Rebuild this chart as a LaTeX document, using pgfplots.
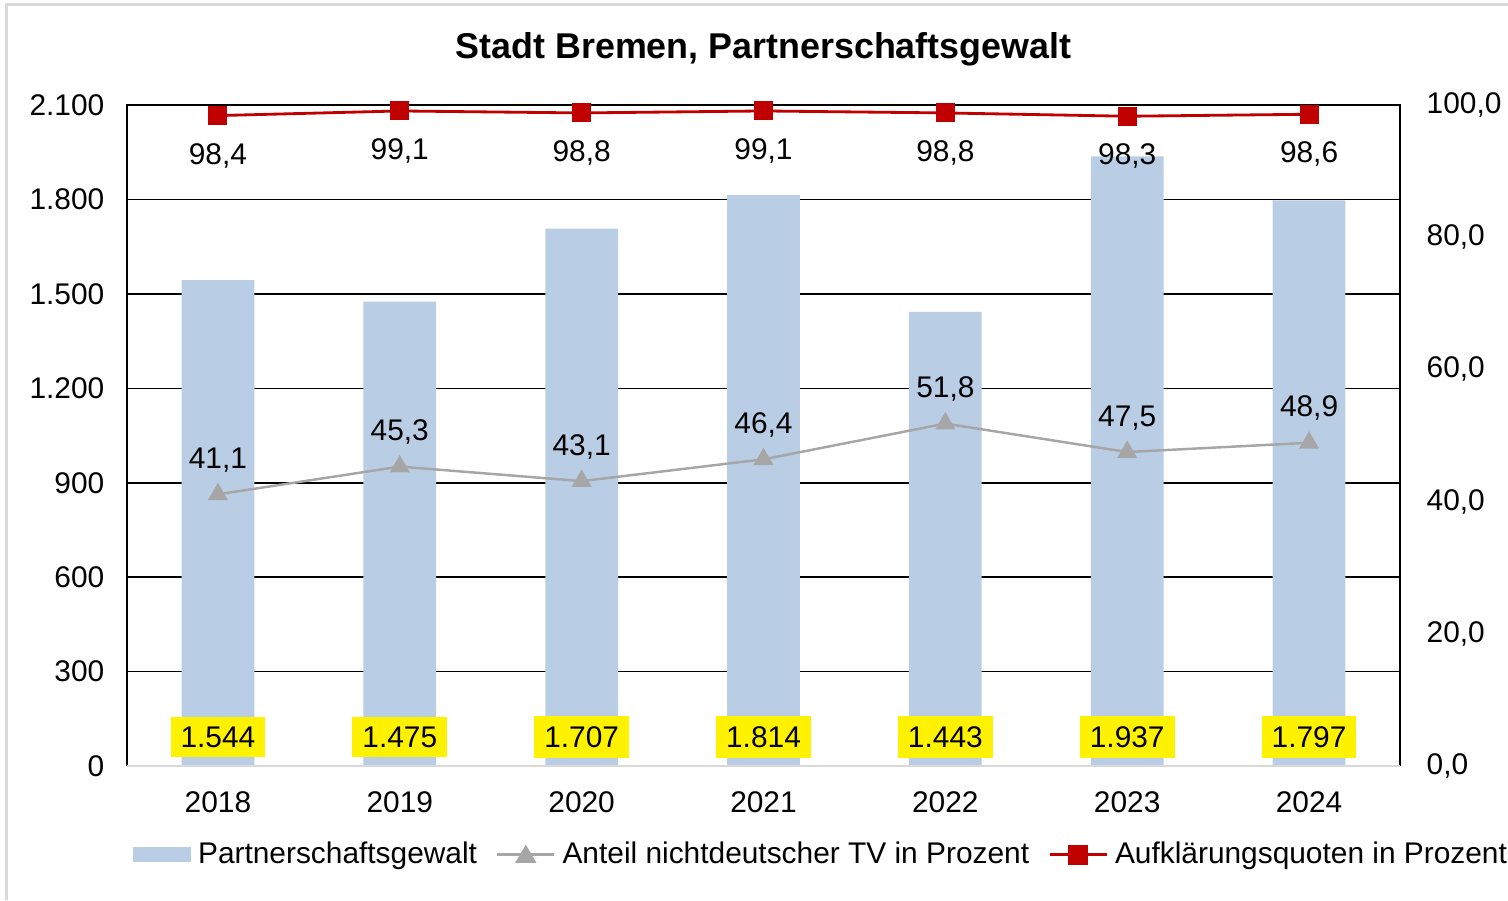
\documentclass[border=0pt]{standalone}
\usepackage{fontspec}
\setmainfont{Liberation Sans}
\usepackage{pgfplots}
\usepackage{pgfplotstable}
\pgfplotsset{compat=1.18}
\definecolor{barblue}{HTML}{B9CDE5}
\definecolor{redq}{HTML}{C00000}
\definecolor{grayl}{HTML}{A6A6A6}
\definecolor{frame}{HTML}{D9D9D9}

\pgfplotstableread{
x y
0 1544
1 1475
2 1707
3 1814
4 1443
5 1937
6 1797
}\bars
\pgfplotstableread{
x y
0 41.1
1 45.3
2 43.1
3 46.4
4 51.8
5 47.5
6 48.9
}\anteil
\pgfplotstableread{
x y
0 98.4
1 99.1
2 98.8
3 99.1
4 98.8
5 98.3
6 98.6
}\quote

\begin{document}
\fontsize{8.5}{10}\selectfont
\begin{tikzpicture}[x=1cm,y=1cm]
\path[use as bounding box] (-1.27,-1.34) rectangle (13.81,7.66);
\draw[frame, line width=0.03cm] (-1.20,-1.34) -- (-1.20,7.61) -- (13.81,7.61);
\begin{axis}[
  at={(0,0)}, anchor=south west,
  scale only axis, width=12.73cm, height=6.61cm,
  xmin=-0.5, xmax=6.5, ymin=0, ymax=2100,
  xtick={0,...,6}, xticklabels={2018,2019,2020,2021,2022,2023,2024},
  ytick={0,300,...,2100},
  yticklabel style={/pgf/number format/1000 sep={.}},
  /pgf/number format/assume math mode=true,
  major tick length=0pt,
  ymajorgrids, grid style={black, line width=0.45pt},
  axis line style={draw=none},
  xticklabel style={yshift=-0.15cm},
  yticklabel style={xshift=-0.12cm},
  ticklabel style={font=\fontsize{8.5}{10}\selectfont},
  clip=false,
]
\addplot[ybar, bar width=0.4, fill=barblue, draw=none, bar shift=0pt] table[x=x,y=y] {\bars};
\addplot[draw=none, mark=none, nodes near coords={\pgfmathprintnumber[1000 sep={.},assume math mode=true]{\pgfplotspointmeta}},
  point meta=explicit,
  every node near coord/.style={anchor=center, fill=yellow, inner xsep=0.1cm, inner ysep=0.1cm, yshift=0.29cm, font=\fontsize{8.5}{10}\selectfont, text=black}]
  table[x=x, y expr=0, meta=y] {\bars};
\draw[black, line width=0.45pt] (rel axis cs:0,0) -- (rel axis cs:0,1) -- (rel axis cs:1,1) -- (rel axis cs:1,0);
\draw[frame, line width=0.6pt] (rel axis cs:0,0) -- (rel axis cs:1,0);
\node[font=\bfseries\fontsize{10.2}{12}\selectfont] at ([yshift=0.56cm]rel axis cs:0.5,1) {Stadt Bremen, Partnerschaftsgewalt};
\end{axis}
\begin{axis}[
  at={(0,0)}, anchor=south west,
  scale only axis, width=12.73cm, height=6.61cm,
  xmin=-0.5, xmax=6.5, ymin=0, ymax=100,
  axis y line*=right, axis x line=none,
  axis line style={draw=none},
  ytick={0,20,...,100},
  yticklabel style={xshift=0.16cm, /pgf/number format/.cd, fixed, fixed zerofill, precision=1, use comma, assume math mode=true},
  ticklabel style={font=\fontsize{8.5}{10}\selectfont},
  major tick length=0pt,
  clip=false,
  legend style={draw=none, fill=none, at={(0.547,-0.134)}, anchor=center, legend columns=3,
    font=\fontsize{8.5}{10}\selectfont, /tikz/every even column/.append style={column sep=0.12cm}},
  legend cell align=left,
]
\addlegendimage{legend image code/.code={\fill[barblue] (0cm,-0.07cm) rectangle (0.57cm,0.07cm);}}
\addlegendentry{Partnerschaftsgewalt}
\addplot[grayl, line width=0.7pt, mark=triangle*, mark size=2.6pt, mark options={fill=grayl, draw=grayl},
  nodes near coords={\pgfmathprintnumber[fixed,fixed zerofill,precision=1,use comma,assume math mode=true]{\pgfplotspointmeta}},
  every node near coord/.style={anchor=south, yshift=0.11cm, font=\fontsize{8.5}{10}\selectfont, text=black},
  legend image code/.code={\draw[grayl, line width=0.7pt] (0cm,0cm) -- (0.57cm,0cm); \fill[grayl] (0.285cm,0.075cm) -- (0.2cm,-0.07cm) -- (0.37cm,-0.07cm) -- cycle;}]
  table[x=x,y=y] {\anteil};
\addlegendentry{Anteil nichtdeutscher TV in Prozent}
\addplot[redq, line width=0.8pt, mark=square*, mark size=2.3pt, mark options={fill=redq, draw=redq},
  nodes near coords={\pgfmathprintnumber[fixed,fixed zerofill,precision=1,use comma,assume math mode=true]{\pgfplotspointmeta}},
  every node near coord/.style={anchor=center, yshift=-0.40cm, font=\fontsize{8.5}{10}\selectfont, text=black},
  legend image code/.code={\draw[redq, line width=0.8pt] (0cm,0cm) -- (0.57cm,0cm); \fill[redq] (0.2cm,-0.085cm) rectangle (0.37cm,0.085cm);}]
  table[x=x,y=y] {\quote};
\addlegendentry{Aufklärungsquoten in Prozent}
\end{axis}
\end{tikzpicture}
\end{document}
